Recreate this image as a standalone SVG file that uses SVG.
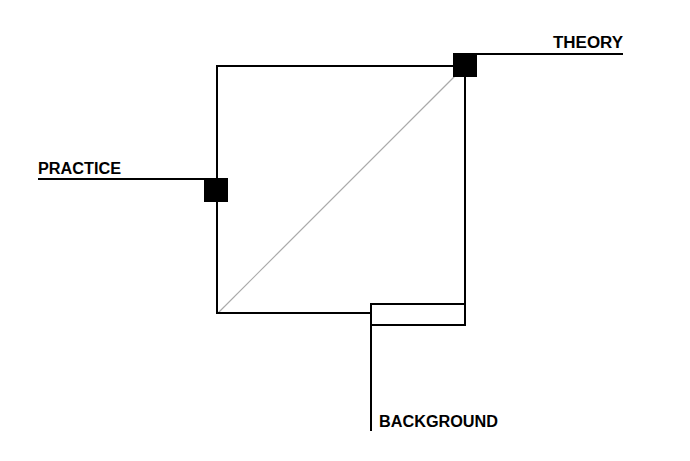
<svg xmlns="http://www.w3.org/2000/svg" width="690" height="461" viewBox="0 0 690 461">
<style>
.ln{stroke:#000;stroke-width:2;fill:none}
.lbl{font-family:"Liberation Sans",Arial,sans-serif;font-weight:bold;font-size:16px;fill:#000}
</style>
<rect width="690" height="461" fill="#fff"/>
<g id="connectors">
<line x1="218" y1="313" x2="465" y2="66" stroke="#aaa" stroke-width="1.2"/>
<polyline class="ln" points="453,66 217,66 217,313 371,313"/>
<line class="ln" x1="465" y1="76" x2="465" y2="304"/>
<line class="ln" x1="476" y1="54" x2="623" y2="54"/>
<line class="ln" x1="38" y1="179" x2="205" y2="179"/>
<line class="ln" x1="371" y1="325" x2="371" y2="431"/>
</g>
<g id="theory">
<rect x="453" y="53" width="24" height="24" fill="#000"/>
<text class="lbl" x="553" y="47.5" textLength="70" lengthAdjust="spacingAndGlyphs">THEORY</text>
</g>
<g id="practice">
<rect x="204" y="178" width="24" height="24" fill="#000"/>
<text class="lbl" x="38" y="173.5" textLength="83" lengthAdjust="spacingAndGlyphs">PRACTICE</text>
</g>
<g id="background">
<rect class="ln" x="371" y="304" width="94" height="21"/>
<text class="lbl" x="379" y="426.5" textLength="119" lengthAdjust="spacingAndGlyphs">BACKGROUND</text>
</g>
</svg>
